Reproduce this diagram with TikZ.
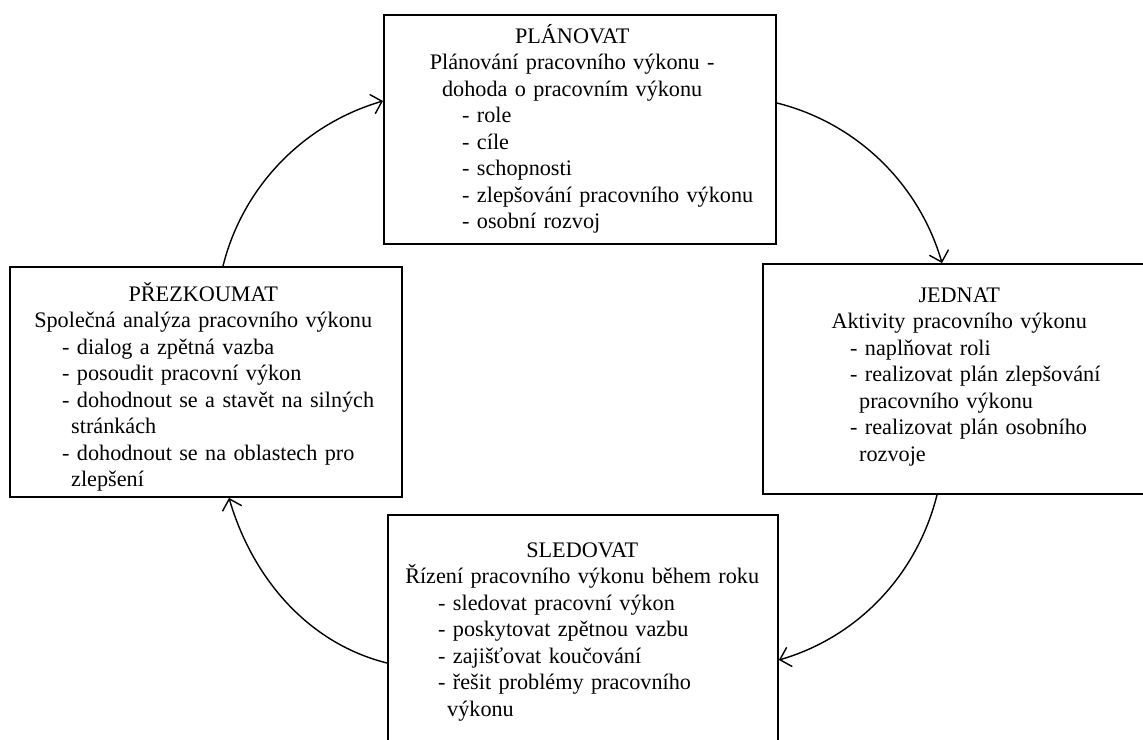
\documentclass[tikz,border=0pt]{standalone}
\usepackage{fontspec}
\setmainfont{Liberation Serif}
\usetikzlibrary{arrows.meta,calc}
\begin{document}
\begin{tikzpicture}[x=1pt,y=-1pt,
  box/.style={draw, line width=1.9pt, rectangle, inner sep=0pt, anchor=north west},
  txt/.style={anchor=north west, inner sep=0pt, font=\fontsize{22.2}{26.5}\selectfont},
  cyc/.style={line width=1.4pt, -{Straight Barb[length=10pt,width=20pt]}}]
\useasboundingbox (0,0) rectangle (1143,739);
\clip (0,0) rectangle (1143,739);
% boxes
\node[box, minimum width=392pt, minimum height=229pt] (plan) at (383,14) {};
\node[box, minimum width=400pt, minimum height=230pt] (jed) at (762,263) {};
\node[box, minimum width=392pt, minimum height=230pt] (prez) at (9,266) {};
\node[box, minimum width=390pt, minimum height=260pt] (sled) at (387,514) {};
% texts
\node[txt, text width=378pt] (plant) at (383,21) {\parindent=0pt\parskip=0pt
  {\centering\rule{0pt}{22pt}PLÁNOVAT\\ Plánování pracovního výkonu -\\ dohoda o pracovním výkonu\par}
  {\leftskip=79pt - role\\ - cíle\\ - schopnosti\\ - zlepšování pracovního výkonu\\ - osobní rozvoj\par}};
\node[txt, text width=394pt] (jedt) at (762,280) {\parindent=0pt\parskip=0pt
  {\centering\rule{0pt}{22pt}JEDNAT\\ Aktivity pracovního výkonu\par}
  {\leftskip=88pt - naplňovat roli\\ - realizovat plán zlepšování\\ \hspace*{9pt}pracovního výkonu\\ - realizovat plán osobního\\ \hspace*{9pt}rozvoje\par}};
\node[txt, text width=388pt] (prezt) at (9,279) {\parindent=0pt\parskip=0pt
  {\centering\rule{0pt}{22pt}PŘEZKOUMAT\\ Společná analýza pracovního výkonu\par}
  {\leftskip=53pt - dialog a zpětná vazba\\ - posoudit pracovní výkon\\ - dohodnout se a stavět na silných\\ \hspace*{9pt}stránkách\\ - dohodnout se na oblastech pro\\ \hspace*{9pt}zlepšení\par}};
\node[txt, text width=390pt] (sledt) at (387,535) {\parindent=0pt\parskip=0pt
  {\centering\rule{0pt}{22pt}SLEDOVAT\\ Řízení pracovního výkonu během roku\par}
  {\leftskip=51pt - sledovat pracovní výkon\\ - poskytovat zpětnou vazbu\\ - zajišťovat koučování\\ - řešit problémy pracovního\\ \hspace*{9pt}výkonu\par}};
% connectors
\coordinate (a1s) at ($(prez.north west)+(214,0)$);
\coordinate (a1e) at ($(plan.north west)+(0,87)$);
\coordinate (a2s) at ($(plan.north east)+(0,89)$);
\coordinate (a2e) at ($(jed.north west)+(180,0)$);
\coordinate (a3s) at ($(jed.south west)+(175,0)$);
\coordinate (a3e) at ($(sled.north east)+(0,146)$);
\coordinate (a4s) at ($(sled.north west)+(0,149)$);
\coordinate (a4e) at ($(prez.south west)+(220,0)$);
\draw[cyc] (a1s) .. controls ($(a1s)+(20,-80)$) and ($(a1e)+(-79,23)$) .. (a1e);
\draw[cyc] (a2s) .. controls ($(a2s)+(80,20)$) and ($(a2e)+(-23,-79)$) .. (a2e);
\draw[cyc] (a3s) .. controls ($(a3s)+(-20,80)$) and ($(a3e)+(79,-23)$) .. (a3e);
\draw[cyc] (a4s) .. controls ($(a4s)+(-80,-20)$) and ($(a4e)+(23,79)$) .. (a4e);
\end{tikzpicture}
\end{document}
